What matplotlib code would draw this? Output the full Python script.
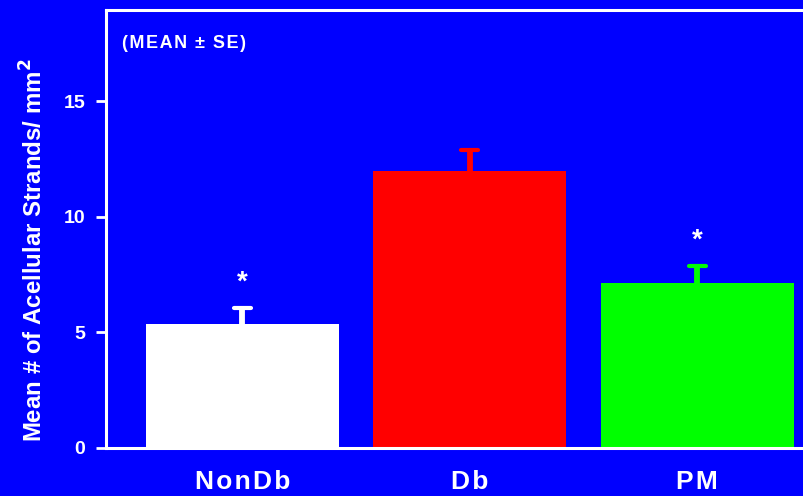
import matplotlib.pyplot as plt

groups = ["NonDb", "Db", "PM"]
means = [5.35, 12.0, 7.15]
se = [0.7, 0.9, 0.72]
bar_colors = ["#FFFFFF", "#FF0000", "#00FF00"]
significant = [True, False, True]

bg = "#0000FF"
plt.rcParams['font.family'] = ['Liberation Sans', 'DejaVu Sans']
plt.rcParams['font.weight'] = 'bold'


def spaced(s):
    # loosen the letters a little with hair spaces
    return "\u200a".join(s)


fig = plt.figure(figsize=(8.04, 4.96), dpi=100, facecolor=bg)
ax = fig.add_axes([106 / 804, 48 / 496, 1 - 106 / 804, 438 / 496])
ax.set_facecolor(bg)

x = list(range(len(groups)))
ax.bar(x, means, width=0.85, color=bar_colors, zorder=2)
cap = 0.038
for i in x:
    top = means[i] + se[i]
    ax.plot([i, i], [means[i], top], color=bar_colors[i], lw=4.2, zorder=1,
            solid_capstyle="butt")
    ax.plot([i - cap, i + cap], [top, top], color=bar_colors[i], lw=3,
            solid_capstyle="round", zorder=1)
    if significant[i]:
        ax.text(i, top + 1.1, "*", color="white", ha="center", va="center",
                fontsize=20, fontweight="bold")

ax.set_xlim(-0.6, 2.47)
ax.set_ylim(0, 18.96)
ax.set_yticks([0, 5, 10, 15])
ax.set_xticks(x)
ax.set_xticklabels([spaced(g) for g in groups], fontsize=19, fontweight="bold", color="white")
ax.tick_params(axis='x', length=0, pad=16)
ax.tick_params(axis='y', colors="white", labelcolor="white", labelsize=14, width=2,
               length=7, direction="out", pad=8)

for side in ["left", "bottom", "top"]:
    ax.spines[side].set_color("white")
    ax.spines[side].set_linewidth(2.2)
ax.spines["right"].set_visible(False)

ax.set_ylabel("Mean # of Acellular Strands/ mm$^\\mathbf{2}$", color="white",
              fontsize=17.3, fontweight="bold")
ax.yaxis.set_label_coords(-58 / 698, 0.452)

ax.text(16 / 698, 1 - 34 / 438, spaced("(MEAN \u00b1 SE)"), transform=ax.transAxes,
        color="white", fontsize=13, fontweight="bold", va="center", ha="left")

fig.savefig("out.png", dpi=100, facecolor=bg)
